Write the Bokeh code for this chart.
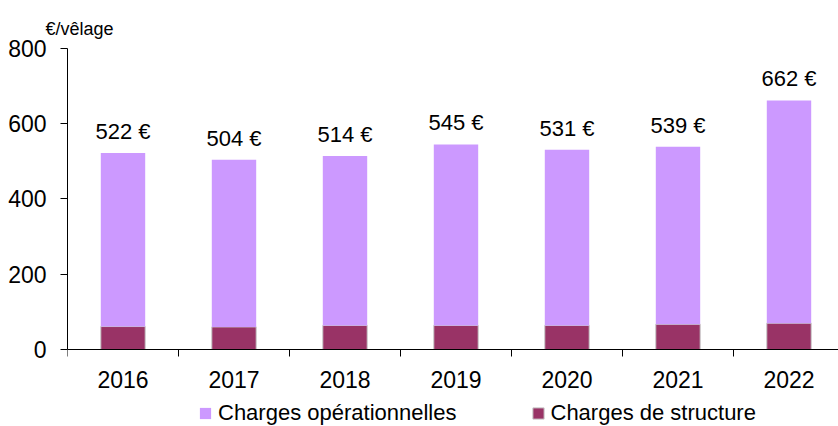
from bokeh.plotting import figure
from bokeh.models import Range1d, FixedTicker, ColumnDataSource, Legend, LegendItem, LinearAxis
from bokeh.core.properties import value
from bokeh.embed import file_html
from bokeh.resources import INLINE

years = ["2016", "2017", "2018", "2019", "2020", "2021", "2022"]
structure = [61, 60, 64, 64, 64, 67, 70]
operational = [461, 444, 450, 481, 467, 472, 592]
totals = [522, 504, 514, 545, 531, 539, 662]
y_ticks = [0, 200, 400, 600, 800]

FONT = "Liberation Sans"
LIGHT = "#CC99FF"
DARK = "#993366"

xs = [i + 0.5 for i in range(len(years))]
src = ColumnDataSource(dict(
    x=xs,
    st=structure,
    tot=[s + o for s, o in zip(structure, operational)],
    lab=[f"{t} €" for t in totals],
    ltop=totals,
))

# frame reaches the bottom of the page; the value axis is bounded to 0..800
p = figure(width=838, height=426, output_backend="svg", toolbar_location=None,
           x_range=Range1d(0, 6.946), y_range=Range1d(-204.7, 800),
           x_axis_location=None,
           min_border_left=67, min_border_right=0, min_border_top=48, min_border_bottom=0,
           title="€/vêlage")
p.outline_line_color = None
p.xgrid.visible = False
p.ygrid.visible = False

p.title.text_font = FONT
p.title.text_font_size = "18px"
p.title.text_font_style = "normal"
p.title.offset = -22
p.title.standoff = 20
p.title.text_color = "black"

r_st = p.vbar(x="x", bottom=0, top="st", width=0.4, source=src,
              fill_color=DARK, line_color="#C8C8C8", line_width=1)
r_op = p.vbar(x="x", bottom="st", top="tot", width=0.4, source=src,
              fill_color=LIGHT, line_color=None)

p.text(x="x", y="ltop", text="lab", source=src, text_align="center",
       text_baseline="bottom", y_offset=-9, text_font=value(FONT),
       text_font_size="22px", text_color="black")

# x axis at y = 0: labels at centres, tick marks at boundaries
xa = LinearAxis(fixed_location=0)
xa.ticker = FixedTicker(ticks=xs, minor_ticks=list(range(len(years) + 1)))
xa.major_label_overrides = {x: y for x, y in zip(xs, years)}
xa.major_tick_out = 0
xa.major_tick_in = 0
xa.minor_tick_out = 7
xa.minor_tick_in = 0
xa.minor_tick_line_color = "black"
xa.axis_line_color = "black"
xa.major_label_text_font = FONT
xa.major_label_text_font_size = "23px"
xa.major_label_text_color = "black"
xa.major_label_standoff = 15
p.add_layout(xa, "below")

ya = p.yaxis[0]
ya.ticker = FixedTicker(ticks=y_ticks, minor_ticks=[])
ya.bounds = (y_ticks[0], y_ticks[-1])
ya.major_tick_out = 7
ya.major_tick_in = 0
ya.minor_tick_out = 0
ya.axis_line_color = "black"
ya.major_tick_line_color = "black"
ya.major_label_text_font = FONT
ya.major_label_text_font_size = "23px"
ya.major_label_text_color = "black"
ya.major_label_standoff = 14

legend = Legend(items=[LegendItem(label="Charges opérationnelles", renderers=[r_op]),
                       LegendItem(label="Charges de structure", renderers=[r_st])],
                orientation="horizontal", location=(131, 0), padding=0, margin=0,
                spacing=74, glyph_width=14, glyph_height=14, label_standoff=6,
                label_height=22,
                label_text_font=FONT, label_text_font_size="22px",
                label_text_color="black",
                background_fill_alpha=0, border_line_color=None)
p.add_layout(legend)

open("out.html", "w").write(file_html(p, INLINE))
